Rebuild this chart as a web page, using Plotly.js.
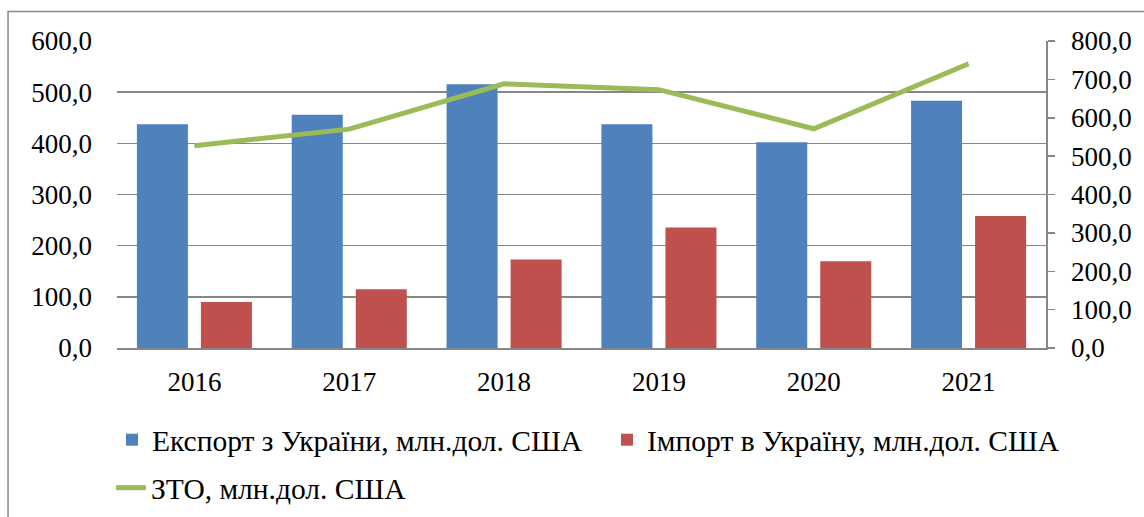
<!DOCTYPE html>
<html>
<head>
<meta charset="utf-8">
<script src="https://cdn.plot.ly/plotly-3.0.1.min.js"></script>
<style>
  html, body { margin: 0; padding: 0; background: #ffffff; }
  #chart { width: 1144px; height: 517px; }
</style>
</head>
<body>
<div id="chart"></div>
<script>
// Data
const years = ['2016', '2017', '2018', '2019', '2020', '2021'];
const exportValues = [437.5, 455.7, 515.6, 437.5, 402.0, 483.0];
const importValues = [89.8, 114.6, 173.0, 235.7, 169.3, 257.8];
const ztoValues = [527.3, 570.3, 688.6, 673.2, 571.3, 740.8];
const leftTicks = [0, 100, 200, 300, 400, 500, 600];
const rightTicks = [0, 100, 200, 300, 400, 500, 600, 700, 800];

const seriesNames = {
  exp: 'Експорт з України, млн.дол. США',
  imp: 'Імпорт в Україну, млн.дол. США',
  zto: 'ЗТО, млн.дол. США'
};

const FONT = 'Liberation Serif';
const GRID = '#878787';

const traces = [
  {
    type: 'bar', name: seriesNames.exp, x: years, y: exportValues,
    marker: { color: '#4F81BD' }, legend: 'legend', showlegend: true, hoverinfo: 'skip'
  },
  {
    type: 'bar', name: seriesNames.imp, x: years, y: importValues,
    marker: { color: '#C0504D' }, legend: 'legend2', showlegend: true, hoverinfo: 'skip'
  },
  {
    type: 'scatter', mode: 'lines', name: seriesNames.zto, x: years, y: ztoValues,
    yaxis: 'y2', line: { color: '#9BBB59', width: 5 }, legend: 'legend3', showlegend: true, hoverinfo: 'skip'
  }
];

const legendBase = {
  orientation: 'h', xanchor: 'left', yanchor: 'middle',
  xref: 'container', yref: 'container',
  bgcolor: 'rgba(0,0,0,0)', borderwidth: 0,
  font: { family: FONT, size: 29.5, color: '#000000' }
};

const layout = {
  width: 1144, height: 517,
  showlegend: true,
  margin: { l: 117, r: 98, t: 41, b: 169, pad: 0 },
  paper_bgcolor: '#ffffff', plot_bgcolor: '#ffffff',
  separators: ', ',
  barmode: 'group', bargap: 0.173, bargroupgap: 0.203,
  font: { family: FONT, size: 27, color: '#000000' },
  xaxis: {
    type: 'category', showgrid: false, zeroline: false,
    showline: true, linecolor: GRID, linewidth: 1.5,
    ticks: '', tickfont: { family: FONT, size: 27, color: '#000000' },
    ticklabelstandoff: 9
  },
  yaxis: {
    range: [0, 600], tickvals: leftTicks, tickformat: '.1f',
    showgrid: true, gridcolor: GRID, gridwidth: 1.5,
    zeroline: false, showline: false, ticks: '',
    tickfont: { family: FONT, size: 27, color: '#000000' },
    ticklabelstandoff: 24
  },
  yaxis2: {
    overlaying: 'y', side: 'right',
    range: [0, 800], tickvals: rightTicks, tickformat: '.1f',
    showgrid: false, zeroline: false,
    showline: true, linecolor: GRID, linewidth: 1.5,
    ticks: 'outside', ticklen: 7, tickcolor: GRID, tickwidth: 1.5,
    tickfont: { family: FONT, size: 27, color: '#000000' },
    ticklabelstandoff: 11
  },
  legend: Object.assign({}, legendBase, { x: 0.0979, y: 0.1489 }),
  legend2: Object.assign({}, legendBase, { x: 0.5306, y: 0.1489 }),
  legend3: Object.assign({}, legendBase, { x: 0.0970, y: 0.0561 }),
  shapes: [
    {
      type: 'rect', xref: 'paper', yref: 'paper',
      x0: -0.1173, x1: 1.112, y0: -0.5765, y1: 1.0961,
      line: { color: '#8a8a8a', width: 1.5 }, fillcolor: 'rgba(0,0,0,0)', layer: 'below'
    }
  ]
};

Plotly.newPlot('chart', traces, layout, { staticPlot: true, displayModeBar: false });
</script>
</body>
</html>
